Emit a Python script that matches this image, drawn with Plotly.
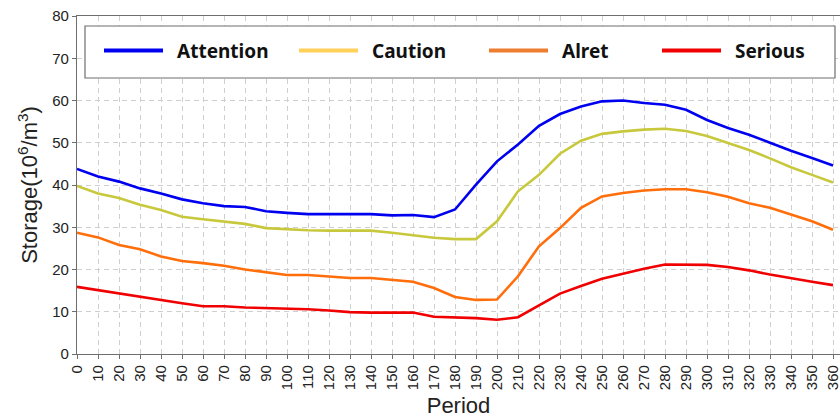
import plotly.graph_objects as go

# Storage limits by period for each warning level
periods = list(range(0, 361, 10))
attention = [43.8, 42.0, 40.8, 39.2, 38.0, 36.6, 35.7, 35.0, 34.8, 33.8,
             33.4, 33.1, 33.1, 33.1, 33.1, 32.8, 32.9, 32.4, 34.2, 40.1,
             45.6, 49.6, 54.0, 56.8, 58.6, 59.8, 60.0, 59.4, 59.0, 57.8,
             55.4, 53.5, 51.9, 50.0, 48.1, 46.4, 44.6]
caution = [39.8, 38.0, 36.9, 35.3, 34.1, 32.5, 31.9, 31.3, 30.8, 29.8,
           29.5, 29.3, 29.2, 29.2, 29.2, 28.7, 28.1, 27.5, 27.2, 27.2,
           31.4, 38.5, 42.4, 47.4, 50.5, 52.1, 52.7, 53.1, 53.3, 52.8,
           51.6, 50.0, 48.3, 46.3, 44.2, 42.4, 40.6]
alret = [28.7, 27.6, 25.8, 24.8, 23.1, 22.0, 21.5, 20.9, 20.0, 19.4,
         18.7, 18.7, 18.3, 18.0, 18.0, 17.6, 17.1, 15.6, 13.5, 12.8,
         12.9, 18.4, 25.5, 29.8, 34.6, 37.3, 38.1, 38.7, 39.0, 39.0,
         38.3, 37.2, 35.7, 34.6, 33.0, 31.4, 29.4]
serious = [15.9, 15.1, 14.3, 13.5, 12.8, 12.0, 11.3, 11.3, 11.0, 10.9,
           10.7, 10.6, 10.3, 9.9, 9.8, 9.8, 9.8, 8.8, 8.7, 8.5,
           8.1, 8.7, 11.5, 14.3, 16.1, 17.8, 19.0, 20.2, 21.2, 21.1,
           21.1, 20.6, 19.8, 18.8, 17.9, 17.1, 16.3]

names = ["Attention", "Caution", "Alret", "Serious"]
series = [attention, caution, alret, serious]
line_colors = ["#0000f0", "#c8c83c", "#ff6e0a", "#f00000"]
key_colors = ["#0000f0", "#ffd05a", "#ed7d31", "#f00000"]

W, H = 840, 418
L, R, T, B = 77, 0, 16, 64

fig = go.Figure()
for name, vals, col in zip(names, series, line_colors):
    fig.add_trace(go.Scatter(x=periods, y=vals, mode="lines", name=name,
                             line=dict(color=col, width=2.6), showlegend=False))

# pixel -> paper helpers for the legend box
def px(x):
    return (x - L) / (W - L - R)

def py(y):
    return (H - B - y) / (H - B - T)

shapes = [dict(type="rect", xref="paper", yref="paper",
               x0=px(85), x1=px(835), y0=py(78), y1=py(26),
               line=dict(color="#6e6e6e", width=1.2), fillcolor="white", layer="above")]
annotations = []
key_x = [104, 299, 489, 662]
for name, col, kx in zip(names, key_colors, key_x):
    shapes.append(dict(type="line", xref="paper", yref="paper",
                       x0=px(kx), x1=px(kx + 59), y0=py(50.5), y1=py(50.5),
                       line=dict(color=col, width=4), layer="above"))
    annotations.append(dict(xref="paper", yref="paper", x=px(kx + 71), y=py(51),
                            xanchor="left", yanchor="middle", showarrow=False,
                            text=f"<b>{name}</b>",
                            font=dict(family="Noto Sans", size=19, color="#111")))

axis_common = dict(showline=True, linecolor="#6e6e6e", linewidth=1.2,
                   ticks="outside", ticklen=4, tickcolor="#6e6e6e",
                   showgrid=True, gridcolor="#cfcfcf", griddash="5px,4px", gridwidth=1,
                   zeroline=False, ticklabeloverflow="allow",
                   tickfont=dict(family="Liberation Sans", size=15, color="#222"))

fig.update_layout(
    width=W, height=H,
    margin=dict(l=L, r=R, t=T, b=B),
    plot_bgcolor="white", paper_bgcolor="white",
    shapes=shapes, annotations=annotations,
    xaxis=dict(range=[0, (W - L - R) / 2.1], tickmode="linear", tick0=0, dtick=10,
               tickangle=-90, mirror=True,
               title=dict(text="Period", standoff=8,
                          font=dict(family="Liberation Sans", size=22, color="#222")),
               **axis_common),
    yaxis=dict(range=[0, 80], tickmode="linear", tick0=0, dtick=10,
               title=dict(text="Storage(10<sup>6</sup>/m<sup>3</sup>)", standoff=8,
                          font=dict(family="Liberation Sans", size=22, color="#222")),
               **axis_common),
)

fig.write_html("out.html")
